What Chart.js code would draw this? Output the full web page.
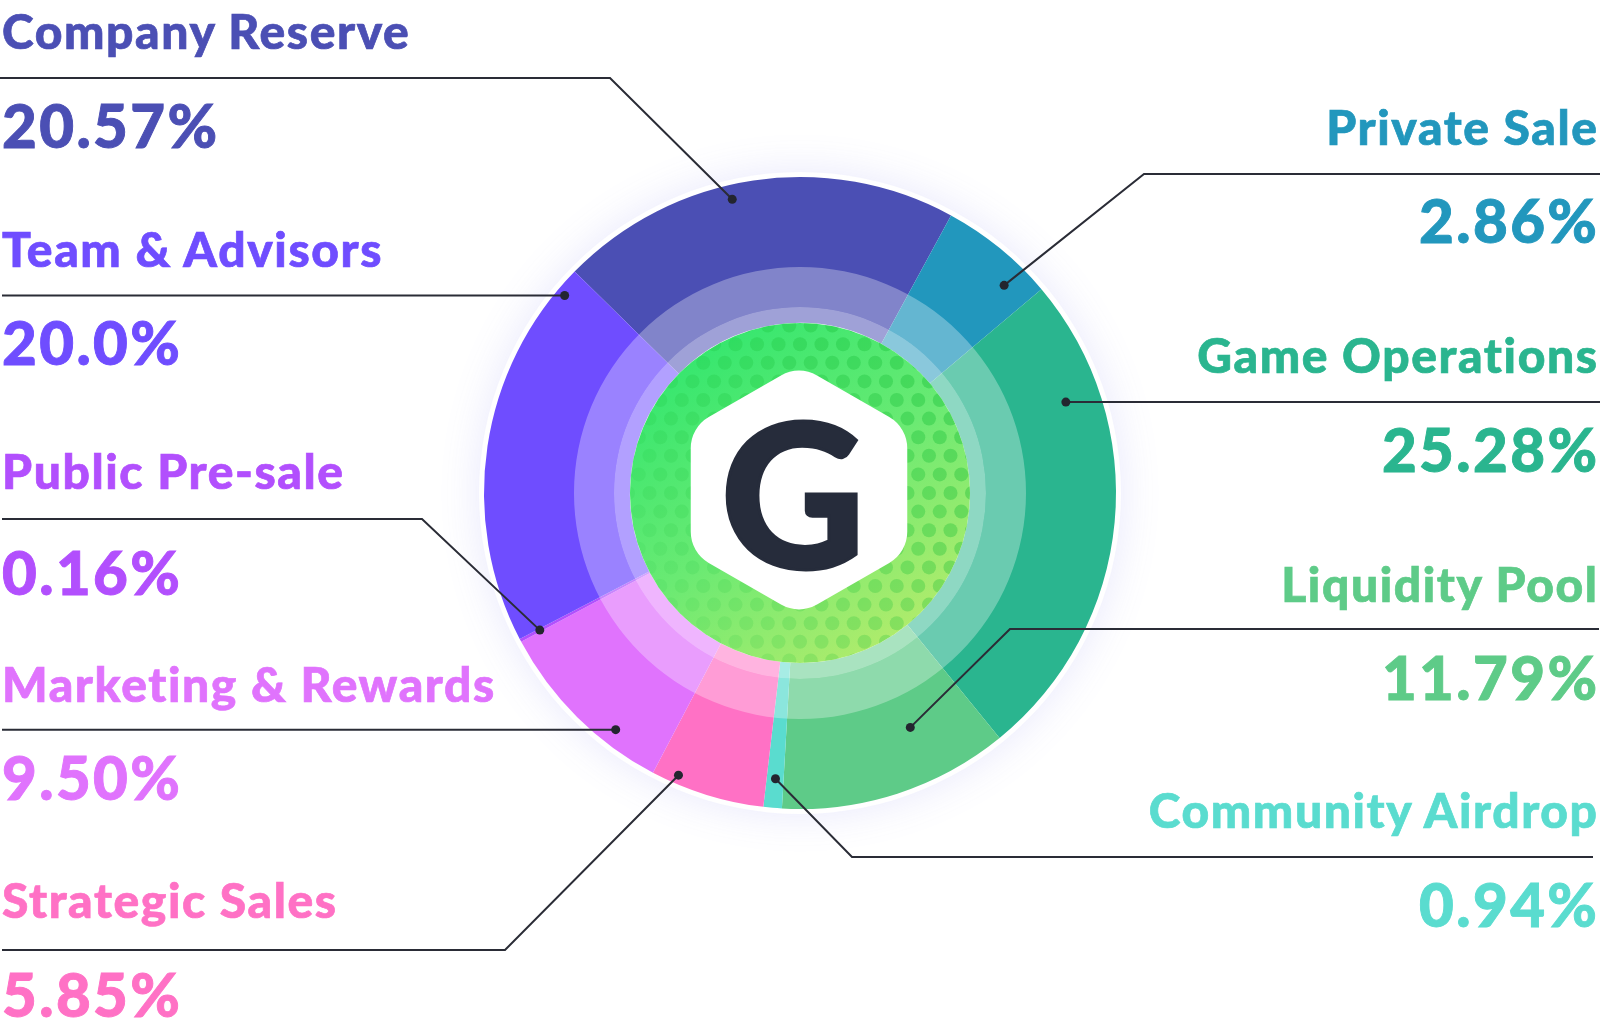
<!DOCTYPE html>
<html>
<head>
<meta charset="utf-8">
<script src="https://cdn.jsdelivr.net/npm/chart.js@4.4.0/dist/chart.umd.min.js"></script>
<style>
  html, body { margin: 0; padding: 0; background: #fff; }
  #wrap { position: relative; width: 1600px; height: 1022px; overflow: hidden; }
  #chart { position: absolute; left: 0; top: 0; }
  .lbl { position: absolute; font-family: Lato, sans-serif; white-space: nowrap; line-height: 1; }
  .name { font-size: 48px; font-weight: 900; letter-spacing: 1.6px; -webkit-text-stroke: 0.7px currentColor; }
  .pct { font-size: 60px; font-weight: 900; letter-spacing: 2.4px; -webkit-text-stroke: 0.9px currentColor; }
  #logo { position: absolute; font-family: Lato, sans-serif; font-weight: 900; font-size: 200px; line-height: 1; color: #262c3b; -webkit-text-stroke: 3px #262c3b; }
</style>
</head>
<body>
<div id="wrap">
  <canvas id="chart" width="1600" height="1022"></canvas>
</div>
<script>
// data, in the order the slices run clockwise from Company Reserve
const categories = ['Company Reserve', 'Private Sale', 'Game Operations', 'Liquidity Pool', 'Community Airdrop',
                    'Strategic Sales', 'Marketing & Rewards', 'Public Pre-sale', 'Team & Advisors'];
const percentLabels = ['20.57%', '2.86%', '25.28%', '11.79%', '0.94%', '5.85%', '9.50%', '0.16%', '20.0%'];
// slice sizes as drawn in the picture (the Private Sale arc is drawn bigger than its 2.86% label)
const sliceValues = [20.57, 5.91, 25.28, 11.79, 0.94, 5.85, 9.50, 0.16, 20.0];
const colors = ['#4b4fb4', '#2297bd', '#2ab58f', '#5ecb88', '#5adccf', '#ff71c5', '#e073fd', '#b24ffd', '#6f4dff'];

// label layout: side, baselines, where the leader dot sits in its slice, and the leader line
const side     = ['L', 'R', 'R', 'R', 'R', 'L', 'L', 'L', 'L'];
const nameBase = [49, 145, 373, 602, 828, 918, 702, 489, 267];
const pctBase  = [148, 243, 472, 700, 927, 1017, 800, 595, 365];
const dotT     = [0.439, 0.75, 0.234, 0.329, 0.48, 0.79, 0.298, 0.5, 0.9375];
const dotU     = [0.90, 0.83, 0.76, 0.61, 0.80, 0.94, 0.89, 0.85, 0.94];
const lineY    = [78, 174, null, 629, 857, 950, null, 519, null];
const elbowX   = [610, 1144, null, 1010, 852, 505, null, 422, null];
const lineEnd  = [0, 1600, 1600, 1599, 1593, 2, 2, 2, 2];

const wrap = document.getElementById('wrap');

function placeText(text, cls, color, baseline, s) {
  const d = document.createElement('div');
  d.className = 'lbl ' + cls;
  d.style.color = color;
  d.textContent = text;
  const mark = document.createElement('span');
  mark.style.cssText = 'display:inline-block;width:0;height:0;vertical-align:baseline';
  d.appendChild(mark);
  wrap.appendChild(d);
  const off = mark.offsetTop;
  d.style.top = (baseline - off) + 'px';
  const ls = parseFloat(getComputedStyle(d).letterSpacing) || 0;
  if (s === 'L') d.style.left = '2px'; else d.style.right = (3 - ls) + 'px';
}

const decor = {
  id: 'decor',
  beforeDatasetsDraw(chart) {
    const el = chart.getDatasetMeta(0).data[0];
    const c = chart.ctx;
    c.save();
    c.shadowColor = 'rgba(110,110,235,0.16)';
    c.shadowBlur = 40;
    c.fillStyle = '#fff';
    c.beginPath();
    c.arc(el.x, el.y, el.outerRadius + 5, 0, Math.PI * 2);
    c.fill();
    c.restore();
  },
  afterDatasetsDraw(chart) {
    const arcs = chart.getDatasetMeta(0).data;
    const c = chart.ctx;
    const cx = arcs[0].x, cy = arcs[0].y;
    const rIn = arcs[0].innerRadius;
    c.save();

    // translucent rings over the inner part of the slices
    const ring = (r1, r2, fill) => {
      c.beginPath();
      c.arc(cx, cy, r2, 0, Math.PI * 2);
      c.arc(cx, cy, r1, 0, Math.PI * 2, true);
      c.fillStyle = fill;
      c.fill();
    };
    ring(rIn + 16, rIn + 56, 'rgba(255,255,255,0.30)');
    ring(rIn - 1, rIn + 16, 'rgba(255,255,255,0.47)');

    // green centre with dot pattern
    const g = c.createLinearGradient(cx - 110, cy - rIn, cx + 120, cy + rIn);
    g.addColorStop(0, '#2ee66e');
    g.addColorStop(0.5, '#6aea73');
    g.addColorStop(1, '#bdec6a');
    c.beginPath();
    c.arc(cx, cy, rIn, 0, Math.PI * 2);
    c.fillStyle = g;
    c.fill();
    c.save();
    c.clip();
    const step = 21.5, rowH = 18.6;
    for (let row = -12; row <= 12; row++) {
      const y = cy + row * rowH;
      const shift = (row % 2 === 0) ? 0 : step / 2;
      for (let col = -10; col <= 10; col++) {
        const x = cx + col * step + shift;
        const kx = Math.min(1, Math.max(0, (x - (cx - rIn)) / (2 * rIn)));
        const ky = Math.min(1, Math.max(0, (cy + rIn - y) / (2 * rIn)));
        const a = 0.03 + 0.28 * kx + 0.14 * ky;
        c.beginPath();
        c.arc(x, y, 7, 0, Math.PI * 2);
        c.fillStyle = 'rgba(25,190,55,' + a.toFixed(3) + ')';
        c.fill();
      }
    }
    c.restore();

    // rounded white hexagon
    const hx = cx - 1, hy = cy - 3, R = 125, rc = 36;
    const pts = [];
    for (let i = 0; i < 6; i++) {
      const a = -Math.PI / 2 + i * Math.PI / 3;
      pts.push([hx + R * Math.cos(a), hy + R * Math.sin(a)]);
    }
    c.beginPath();
    const m = [(pts[5][0] + pts[0][0]) / 2, (pts[5][1] + pts[0][1]) / 2];
    c.moveTo(m[0], m[1]);
    for (let i = 0; i < 6; i++) {
      const p = pts[i], q = pts[(i + 1) % 6];
      c.arcTo(p[0], p[1], q[0], q[1], rc);
    }
    c.closePath();
    c.fillStyle = '#ffffff';
    c.fill();

    // leader lines and dots
    c.strokeStyle = '#2a2c36';
    c.lineWidth = 2;
    c.fillStyle = '#23252f';
    arcs.forEach((el, i) => {
      const a = el.startAngle + dotT[i] * (el.endAngle - el.startAngle);
      const r = el.innerRadius + dotU[i] * (el.outerRadius - el.innerRadius);
      const px = el.x + r * Math.cos(a), py = el.y + r * Math.sin(a);
      c.beginPath();
      c.moveTo(px, py);
      const ly = lineY[i] === null ? py : lineY[i];
      if (elbowX[i] !== null) c.lineTo(elbowX[i], ly);
      c.lineTo(lineEnd[i], ly);
      c.stroke();
      c.beginPath();
      c.arc(px, py, 4.5, 0, Math.PI * 2);
      c.fill();
    });
    c.restore();
  }
};

const chart = new Chart(document.getElementById('chart'), {
  type: 'doughnut',
  data: {
    labels: categories,
    datasets: [{ data: sliceValues, backgroundColor: colors, borderWidth: 0 }]
  },
  options: {
    responsive: false,
    animation: false,
    radius: 316,
    cutout: '53.8%',
    rotation: -45.5,
    layout: { padding: { bottom: 36 } },
    plugins: { legend: { display: false }, tooltip: { enabled: false } }
  },
  plugins: [decor]
});

categories.forEach((name, i) => {
  placeText(name, 'name', colors[i], nameBase[i], side[i]);
  placeText(percentLabels[i], 'pct', colors[i], pctBase[i], side[i]);
});

// logo letter in the middle
const logo = document.createElement('div');
logo.id = 'logo';
logo.textContent = 'G';
wrap.appendChild(logo);
const meta0 = chart.getDatasetMeta(0).data[0];
logo.style.left = (meta0.x - 7 - logo.offsetWidth / 2) + 'px';
logo.style.top = (meta0.y - 2 - logo.offsetHeight / 2) + 'px';
</script>
</body>
</html>
